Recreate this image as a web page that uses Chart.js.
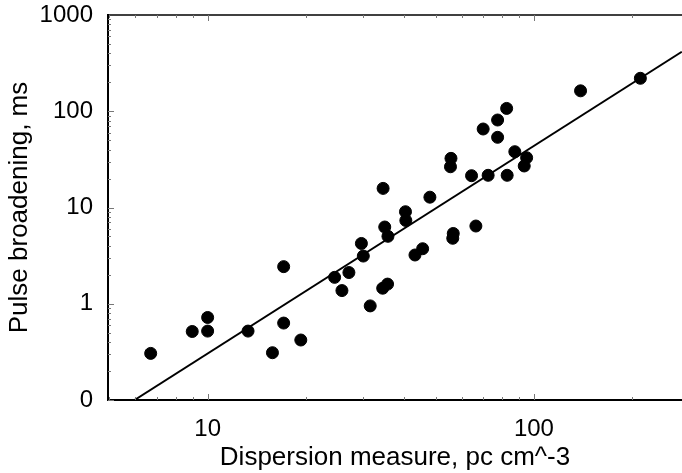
<!DOCTYPE html>
<html>
<head>
<meta charset="utf-8">
<script src="https://cdn.jsdelivr.net/npm/chart.js@4"></script>
<style>
  html, body { margin: 0; padding: 0; background: #fff; }
  #wrap { width: 682px; height: 473px; position: relative; }
</style>
</head>
<body>
<div id="wrap"><canvas id="grafico"></canvas></div>
<script>
// dispersion measure (pc cm^-3) and pulse broadening (ms)
const dm = [6.69, 8.97, 10.0, 10.0, 13.3, 17.1, 17.1, 15.8, 19.3, 24.5,
            25.8, 27.1, 29.6, 30.0, 31.5, 34.4, 35.6, 34.5, 34.9, 35.7,
            40.4, 40.5, 43.2, 45.6, 48.0, 56.6, 56.4, 55.5, 55.7, 64.4,
            66.4, 69.9, 72.4, 77.4, 77.4, 82.5, 82.8, 87.4, 95.0, 93.4,
            139, 212];
const broadening = [0.305, 0.515, 0.72, 0.52, 0.52, 2.43, 0.63, 0.31, 0.42, 1.88,
                    1.37, 2.11, 4.23, 3.13, 0.95, 1.45, 1.6, 15.8, 6.27, 5.02,
                    9.04, 7.33, 3.21, 3.73, 12.8, 5.37, 4.79, 26.5, 32.4, 21.4,
                    6.42, 65.4, 21.6, 81.1, 53.6, 107, 21.6, 38.0, 32.9, 27.0,
                    163, 220];
// fitted line, two ends
const fitDm = [5.97, 284];
const fitBroadening = [0.1, 415];

const xTicks = [10, 100];
const yTicks = [0.1, 1, 10, 100, 1000];
const yTickLabels = ["0", "1", "10", "100", "1000"];

const fuente = "'Liberation Sans', Arial, Helvetica, sans-serif";

// small inward tick marks and the top frame line
const marcas = {
  id: "marcas",
  afterDraw(chart) {
    const { ctx, chartArea, scales } = chart;
    ctx.save();
    ctx.strokeStyle = "#000";
    ctx.lineWidth = 1.5;
    ctx.beginPath();
    ctx.moveTo(chartArea.left, chartArea.top);
    ctx.lineTo(chartArea.right, chartArea.top);
    ctx.stroke();
    ctx.strokeStyle = "#777";
    ctx.lineWidth = 1;
    for (let d = 1; d <= 100; d *= 10) {
      for (let m = 1; m < 10; m++) {
        const v = d * m;
        if (v < scales.x.min || v > scales.x.max) continue;
        const px = Math.round(scales.x.getPixelForValue(v)) + 0.5;
        const len = m === 1 ? 6 : 3;
        ctx.beginPath();
        ctx.moveTo(px, chartArea.bottom);
        ctx.lineTo(px, chartArea.bottom - len);
        ctx.moveTo(px, chartArea.top);
        ctx.lineTo(px, chartArea.top + len);
        ctx.stroke();
      }
    }
    for (let d = 0.1; d < 1000; d *= 10) {
      for (let m = 1; m < 10; m++) {
        const v = d * m;
        const py = Math.round(scales.y.getPixelForValue(v)) + 0.5;
        const len = m === 1 ? 6 : 3;
        ctx.beginPath();
        ctx.moveTo(chartArea.left, py);
        ctx.lineTo(chartArea.left + len, py);
        ctx.stroke();
      }
    }
    ctx.restore();
  }
};

new Chart(document.getElementById("grafico").getContext("2d"), {
  type: "scatter",
  data: {
    datasets: [
      {
        label: "pulsars",
        data: dm.map((x, i) => ({ x: x, y: broadening[i] })),
        backgroundColor: "#000",
        borderColor: "#000",
        pointRadius: 6,
        pointHoverRadius: 6
      },
      {
        label: "fit",
        type: "line",
        data: fitDm.map((x, i) => ({ x: x, y: fitBroadening[i] })),
        borderColor: "#000",
        borderWidth: 2,
        pointRadius: 0,
        fill: false
      }
    ]
  },
  options: {
    responsive: true,
    maintainAspectRatio: false,
    animation: false,
    layout: { autoPadding: false, padding: { top: 15, right: 0, left: 0, bottom: 0 } },
    plugins: {
      legend: { display: false },
      tooltip: { enabled: false }
    },
    scales: {
      x: {
        type: "logarithmic",
        min: 4.95,
        max: 284.4,
        afterBuildTicks: s => { s.ticks = xTicks.map(v => ({ value: v })); },
        afterFit: s => { s.height = 73; },
        grid: { display: true, drawOnChartArea: false, drawTicks: true, tickLength: 15, tickColor: "rgba(0,0,0,0)" },
        border: { display: true, color: "#000", width: 2 },
        ticks: {
          color: "#000",
          padding: 0,
          maxRotation: 0,
          font: { family: fuente, size: 24 },
          callback: v => String(v)
        },
        title: {
          display: true,
          text: "Dispersion measure, pc cm^-3",
          color: "#000",
          padding: { top: 0, bottom: 0 },
          font: { family: fuente, size: 26 }
        }
      },
      y: {
        type: "logarithmic",
        min: 0.1,
        max: 1000,
        afterBuildTicks: s => { s.ticks = yTicks.map(v => ({ value: v })); },
        afterFit: s => { s.width = 108; },
        grid: { display: true, drawOnChartArea: false, drawTicks: true, tickLength: 15, tickColor: "rgba(0,0,0,0)" },
        border: { display: true, color: "#000", width: 2 },
        ticks: {
          color: "#000",
          padding: 0,
          font: { family: fuente, size: 24 },
          callback: v => yTickLabels[yTicks.indexOf(v)]
        },
        title: {
          display: true,
          text: "Pulse broadening, ms",
          color: "#000",
          padding: { top: 4, bottom: 0 },
          font: { family: fuente, size: 26 }
        }
      }
    }
  },
  plugins: [marcas]
});
</script>
</body>
</html>
